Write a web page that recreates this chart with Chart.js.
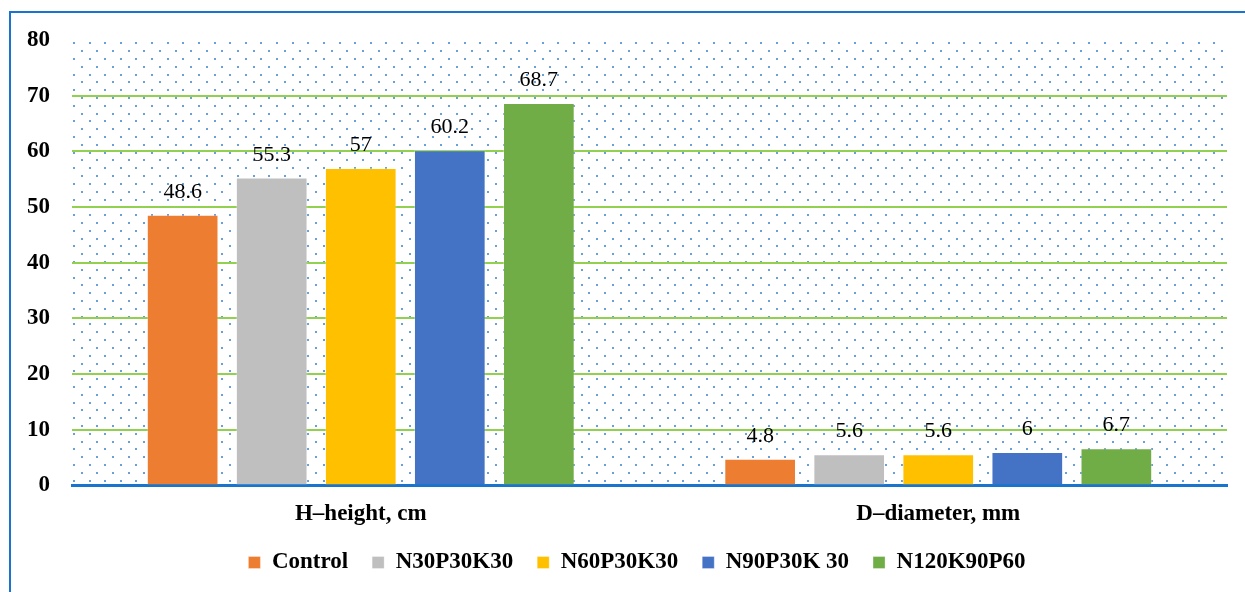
<!DOCTYPE html>
<html><head><meta charset="utf-8">
<script src="https://cdn.jsdelivr.net/npm/chart.js@4"></script>
<style>
html,body{margin:0;padding:0;background:#fff;overflow:hidden}
#wrap{position:relative;width:1245px;height:592px}
#frame{position:absolute;left:9px;top:11px;width:1260px;height:620px;border:2px solid #1874CD;pointer-events:none;box-sizing:border-box}
canvas{display:block}
</style></head>
<body><div id="wrap"><canvas id="c" width="1245" height="592"></canvas><div id="frame"></div></div>
<script>
const categories = ['H\u2013height, cm', 'D\u2013diameter, mm'];
const seriesNames = ['Control', 'N30P30K30', 'N60P30K30', 'N90P30K 30', 'N120K90P60'];
const control = [48.6, 4.8];
const n30p30k30 = [55.3, 5.6];
const n60p30k30 = [57, 5.6];
const n90p30k30 = [60.2, 6];
const n120k90p60 = [68.7, 6.7];
const yTickValues = [0, 10, 20, 30, 40, 50, 60, 70, 80];

const seriesValues = [control, n30p30k30, n60p30k30, n90p30k30, n120k90p60];
const seriesColors = ['#ED7D31', '#BFBFBF', '#FFC000', '#4472C4', '#70AD47'];
const FONT = "'Liberation Serif', 'Times New Roman', serif";

const dotBg = {
  id: 'dotBg',
  beforeDraw(chart) {
    const {ctx, chartArea: a} = chart;
    ctx.save();
    ctx.fillStyle = '#6A9FD8';
    const step = 15.62, rowH = 7.81;
    let row = 0;
    for (let y = a.top + 3.3; y <= a.bottom; y += rowH, row++) {
      const off = (row % 2) ? 7.81 : 0;
      for (let x = a.left + 2 + off; x <= a.right - 3; x += step) {
        ctx.fillRect(Math.round(x) - 1, Math.round(y) - 1, 2, 2);
      }
    }
    ctx.restore();
  }
};

const valueLabels = {
  id: 'valueLabels',
  afterDatasetsDraw(chart) {
    const ctx = chart.ctx;
    ctx.save();
    ctx.font = '22px ' + FONT;
    ctx.fillStyle = '#000';
    ctx.textAlign = 'center';
    ctx.textBaseline = 'alphabetic';
    chart.data.datasets.forEach((ds, i) => {
      const meta = chart.getDatasetMeta(i);
      meta.data.forEach((el, j) => {
        ctx.fillText(String(ds.data[j]), el.x, el.y - 17);
      });
    });
    ctx.restore();
  }
};

const legendShift = {
  id: 'legendShift',
  afterLayout(chart) {
    if (chart.legend) { chart.legend.left += 47; }
  }
};

new Chart(document.getElementById('c'), {
  type: 'bar',
  data: {
    labels: categories,
    datasets: seriesNames.map((name, i) => ({
      label: name,
      data: seriesValues[i],
      backgroundColor: seriesColors[i],
      borderColor: 'rgba(255,255,255,0.3)',
      borderWidth: 1,
      categoryPercentage: 0.771,
      barPercentage: 0.805
    }))
  },
  options: {
    responsive: false,
    animation: false,
    layout: {padding: {top: 40, right: 18, left: 0, bottom: 8}},
    plugins: {
      legend: {
        position: 'bottom',
        labels: {
          font: {family: FONT, size: 23, weight: 'bold'},
          color: '#000',
          boxWidth: 12,
          boxHeight: 12,
          padding: 24
        }
      },
      tooltip: {enabled: false}
    },
    scales: {
      x: {
        clip: false,
        grid: {display: false},
        border: {color: '#1874CD', width: 3},
        ticks: {font: {family: FONT, size: 23, weight: 'bold'}, color: '#000', padding: 7},
        afterFit(s) { s.height = 41.5; }
      },
      y: {
        clip: false,
        min: 0, max: 80,
        afterBuildTicks(s) { s.ticks = yTickValues.map(v => ({value: v})); },
        grid: {
          color: ctx => (ctx.tick && (ctx.tick.value === 80 || ctx.tick.value === 0)) ? 'rgba(0,0,0,0)' : '#92D050',
          lineWidth: 2,
          drawTicks: false
        },
        border: {display: false},
        ticks: {font: {family: FONT, size: 23, weight: 'bold'}, color: '#000', padding: 22},
        afterFit(s) { s.width = 72; }
      }
    }
  },
  plugins: [dotBg, valueLabels, legendShift]
});
</script>
</body></html>
